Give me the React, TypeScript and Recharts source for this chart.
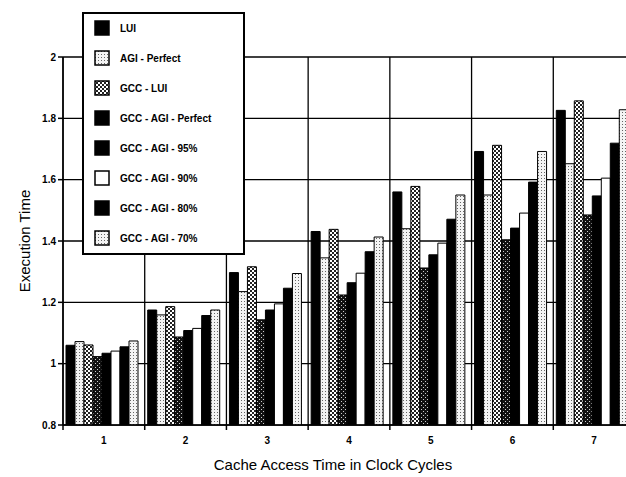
import { BarChart, Bar, XAxis, YAxis, CartesianGrid } from "recharts";

const cycles = ["1", "2", "3", "4", "5", "6", "7"];
const yTicks = [0.8, 1, 1.2, 1.4, 1.6, 1.8, 2];

const lui = [1.06, 1.175, 1.297, 1.431, 1.56, 1.692, 1.826];
const agiPerfect = [1.072, 1.159, 1.235, 1.345, 1.44, 1.55, 1.652];
const gccLui = [1.061, 1.186, 1.316, 1.438, 1.578, 1.712, 1.857];
const gccAgiPerfect = [1.023, 1.087, 1.143, 1.224, 1.312, 1.404, 1.485];
const gccAgi95 = [1.034, 1.108, 1.175, 1.264, 1.355, 1.442, 1.547];
const gccAgi90 = [1.041, 1.115, 1.195, 1.295, 1.393, 1.491, 1.605];
const gccAgi80 = [1.055, 1.157, 1.246, 1.365, 1.471, 1.592, 1.719];
const gccAgi70 = [1.074, 1.175, 1.294, 1.413, 1.55, 1.692, 1.828];

const series = [
  { key: "lui", name: "LUI", values: lui, fill: "#000", swatch: "#000" },
  { key: "agiP", name: "AGI - Perfect", values: agiPerfect, fill: "url(#stipple)", swatch: "url(#stipple)" },
  { key: "gccLui", name: "GCC - LUI", values: gccLui, fill: "url(#check)", swatch: "url(#check)" },
  { key: "gccAgiP", name: "GCC - AGI - Perfect", values: gccAgiPerfect, fill: "url(#darkdots)", swatch: "#000" },
  { key: "g95", name: "GCC - AGI - 95%", values: gccAgi95, fill: "#000", swatch: "#000" },
  { key: "g90", name: "GCC - AGI - 90%", values: gccAgi90, fill: "#fff", swatch: "#fff" },
  { key: "g80", name: "GCC - AGI - 80%", values: gccAgi80, fill: "#000", swatch: "#000" },
  { key: "g70", name: "GCC - AGI - 70%", values: gccAgi70, fill: "url(#stipple)", swatch: "url(#stipple)" },
];

const data = cycles.map((c, i) => {
  const row: Record<string, string | number> = { cycle: c };
  series.forEach((s) => (row[s.key] = s.values[i]));
  return row;
});

const FONT = "'Liberation Sans', Arial, sans-serif";
const CHART_W = 640;
const CHART_H = 477;
const LEFT = 63;
const RIGHT = 5;
const TOP = 57;
const X_AXIS_H = 52;
const BOTTOM_Y = CHART_H - X_AXIS_H;
const BAND = (CHART_W - LEFT - RIGHT) / cycles.length;

function XTick(props: any) {
  const { x, payload } = props;
  const bx = x - BAND / 2;
  return (
    <g>
      <line x1={bx} x2={bx} y1={BOTTOM_Y} y2={BOTTOM_Y + 5} stroke="#000" strokeWidth={1.5} />
      <text x={x} y={444} textAnchor="middle" fontSize={10} fontWeight="bold" fontFamily={FONT} fill="#000">
        {payload.value}
      </text>
    </g>
  );
}

function Patterns() {
  return (
    <svg width={0} height={0} style={{ position: "absolute" }}>
      <defs>
        <pattern id="stipple" patternUnits="userSpaceOnUse" width={3} height={3}>
          <rect width={3} height={3} fill="#f4f4f4" />
          <rect x={1} y={1} width={1} height={1} fill="#666" />
        </pattern>
        <pattern id="check" patternUnits="userSpaceOnUse" width={4} height={4}>
          <rect width={4} height={4} fill="#fff" />
          <rect x={0} y={0} width={2} height={2} fill="#222" />
          <rect x={2} y={2} width={2} height={2} fill="#222" />
        </pattern>
        <pattern id="darkdots" patternUnits="userSpaceOnUse" width={4} height={4}>
          <rect width={4} height={4} fill="#111" />
          <rect x={1} y={1} width={1} height={1} fill="#ccc" />
          <rect x={3} y={3} width={1} height={1} fill="#ccc" />
        </pattern>
      </defs>
    </svg>
  );
}

function ChartLegend() {
  return (
    <div
      style={{
        position: "absolute",
        left: 82,
        top: 12,
        width: 159,
        height: 239,
        border: "2px solid #000",
        background: "#fff",
        fontFamily: FONT,
      }}
    >
      {series.map((s, i) => (
        <div
          key={s.key}
          style={{ position: "absolute", left: 10, top: 6 + i * 30, height: 16, display: "flex", alignItems: "center" }}
        >
          <svg width={16} height={16}>
            <rect x={1} y={1} width={14} height={14} fill={s.swatch} stroke="#000" strokeWidth={1.5} />
          </svg>
          <span style={{ marginLeft: 10, fontSize: 10, fontWeight: "bold", color: "#000", whiteSpace: "nowrap" }}>
            {s.name}
          </span>
        </div>
      ))}
    </div>
  );
}

export default function App() {
  return (
    <div style={{ position: "fixed", left: 0, top: 0, width: 626, height: 477, overflow: "hidden", background: "#fff" }}>
      <Patterns />
      <BarChart
        width={CHART_W}
        height={CHART_H}
        data={data}
        margin={{ top: TOP, right: RIGHT, bottom: 0, left: 0 }}
        barCategoryGap={3}
        barGap={0}
      >
        <CartesianGrid
          stroke="#000"
          strokeWidth={1.3}
          verticalCoordinatesGenerator={({ offset }: any) =>
            cycles.map((_, i) => offset.left + (i * offset.width) / cycles.length)
          }
        />
        <XAxis
          dataKey="cycle"
          height={X_AXIS_H}
          tickLine={false}
          axisLine={{ stroke: "#000", strokeWidth: 1.5 }}
          tick={<XTick />}
          interval={0}
          label={{
            content: () => (
              <text x={333} y={470} textAnchor="middle" fontSize={15} fontFamily={FONT} fill="#000">
                Cache Access Time in Clock Cycles
              </text>
            ),
          }}
        />
        <YAxis
          width={LEFT}
          domain={[0.8, 2]}
          ticks={yTicks}
          interval={0}
          allowDataOverflow
          tickSize={5}
          tickLine={{ stroke: "#000", strokeWidth: 1.5 }}
          axisLine={{ stroke: "#000", strokeWidth: 1.5 }}
          tick={{ fontSize: 10, fontWeight: "bold", fill: "#000", fontFamily: FONT }}
          label={{
            content: () => (
              <text
                x={30}
                y={241}
                transform="rotate(-90 30 241)"
                textAnchor="middle"
                fontSize={15}
                fontFamily={FONT}
                fill="#000"
              >
                Execution Time
              </text>
            ),
          }}
        />
        {series.map((s) => (
          <Bar
            key={s.key}
            dataKey={s.key}
            name={s.name}
            fill={s.fill}
            stroke="#000"
            strokeWidth={1}
            isAnimationActive={false}
          />
        ))}
      </BarChart>
      <ChartLegend />
    </div>
  );
}
